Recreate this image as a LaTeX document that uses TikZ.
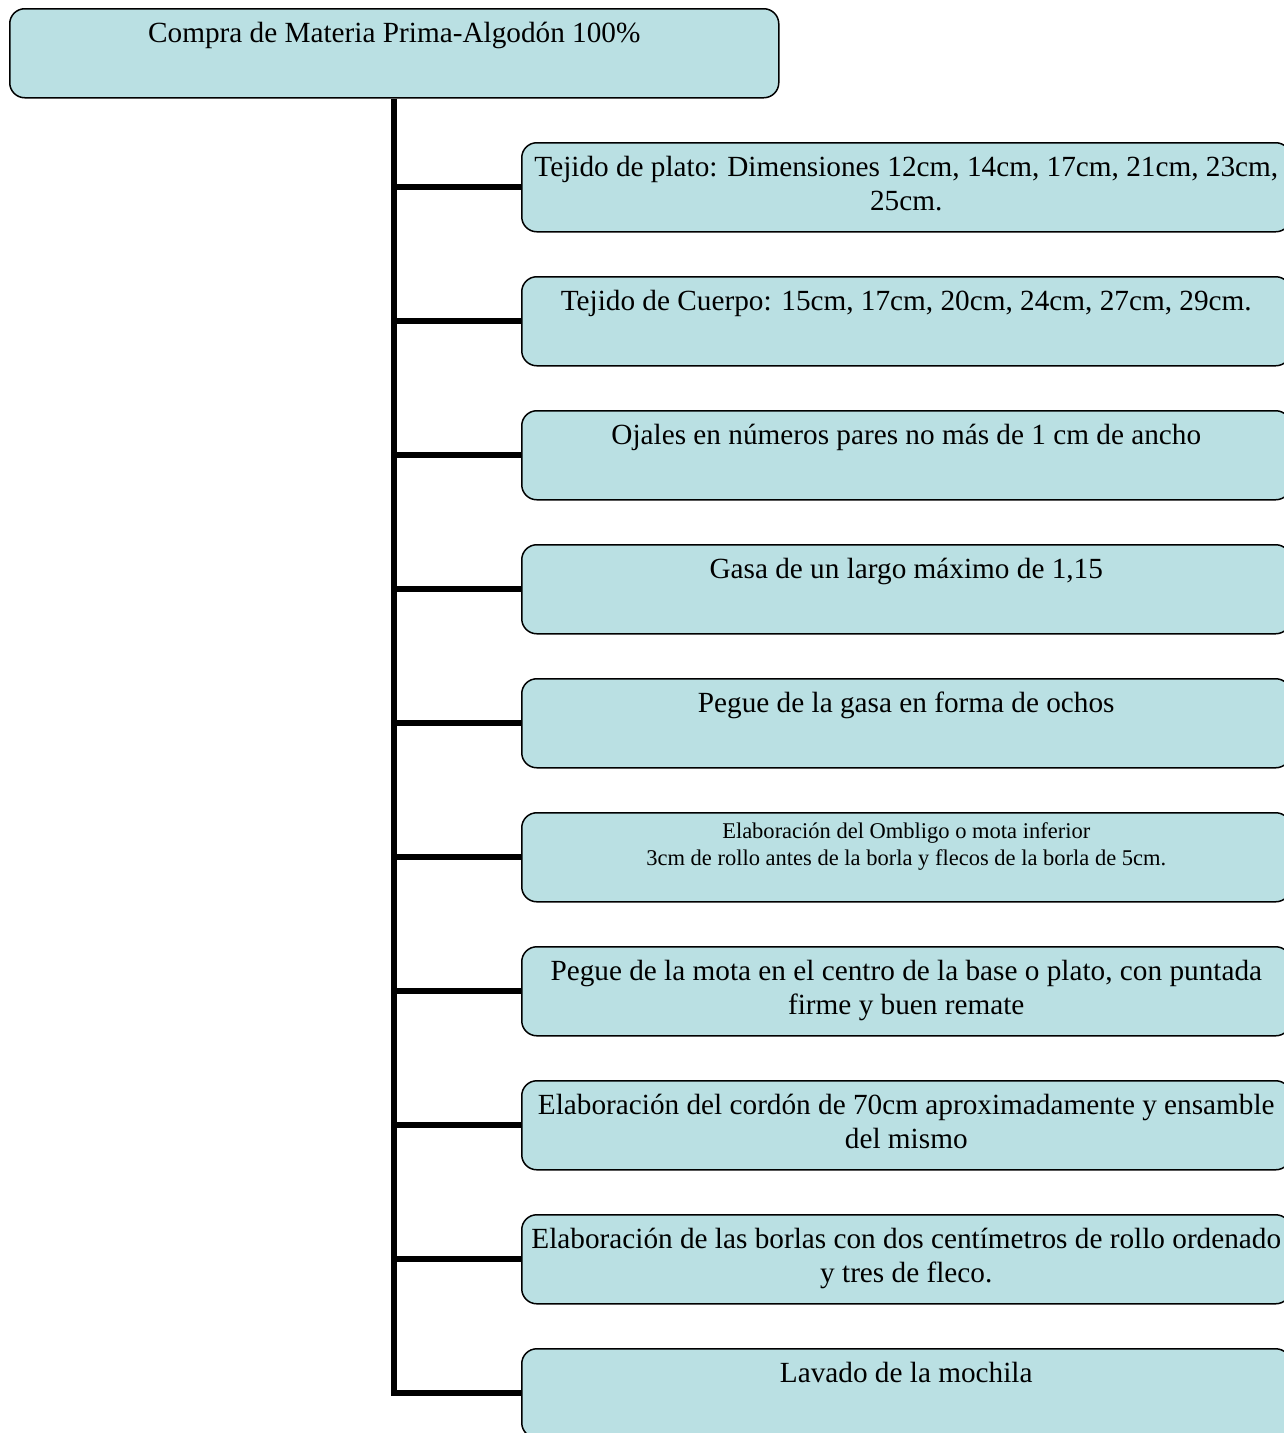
\documentclass[tikz,border=0pt]{standalone}
\usepackage{fontspec}
\setmainfont{Liberation Serif}
\usetikzlibrary{positioning, backgrounds}
\usepackage{xcolor}
\definecolor{celeste}{RGB}{186,224,227}

% text anchored at the top of a box
\newcommand{\caja}[1]{\parbox[c][35.6pt][t]{305pt}{\centering\rule{0pt}{13.3pt}#1}}
\newcommand{\cajachica}[1]{\parbox[c][35.6pt][t]{305pt}{\centering\fontsize{9}{10.8}\selectfont\rule{0pt}{10.4pt}#1}}

\tikzstyle{paso} = [%
  rectangle,
  draw=black,
  line width=0.6pt,
  fill=celeste,
  rounded corners=6pt,
  inner xsep=1.3pt,
  inner ysep=0pt,
  align=center,
  font=\fontsize{11.7}{13.6}\selectfont
]

\begin{document}
\begin{tikzpicture}[%
  x=0.4pt, y=-0.4pt,
  tronco/.style={draw=black, line width=2.3pt}
]
  \useasboundingbox (0,0) rectangle (1284,1433);
  \clip (0,0) rectangle (1284,1433);

  % Nodes
  \node[paso, anchor=north west] (compra) at (9,8) {\caja{Compra de Materia Prima-Algodón 100\%}};
  \node[paso, below=17.4pt of compra, xshift=204.8pt] (p1) {\caja{Tejido de plato: Dimensiones 12cm, 14cm, 17cm, 21cm, 23cm,\\ 25cm.}};
  \node[paso, below=17.4pt of p1] (p2) {\caja{Tejido de Cuerpo: 15cm, 17cm, 20cm, 24cm, 27cm, 29cm.}};
  \node[paso, below=17.4pt of p2] (p3) {\caja{Ojales en números pares no más de 1 cm de ancho}};
  \node[paso, below=17.4pt of p3] (p4) {\caja{Gasa de un largo máximo de 1,15}};
  \node[paso, below=17.4pt of p4] (p5) {\caja{Pegue de la gasa en forma de ochos}};
  \node[paso, below=17.4pt of p5] (p6) {\cajachica{Elaboración del Ombligo o mota inferior\\ 3cm de rollo antes de la borla y flecos de la borla de 5cm.}};
  \node[paso, below=17.4pt of p6] (p7) {\caja{Pegue de la mota en el centro de la base o plato, con puntada\\ firme y buen remate}};
  \node[paso, below=17.4pt of p7] (p8) {\caja{Elaboración del cordón de 70cm aproximadamente y ensamble\\ del mismo}};
  \node[paso, below=17.4pt of p8] (p9) {\caja{Elaboración de las borlas con dos centímetros de rollo ordenado\\ y tres de fleco.}};
  \node[paso, below=17.4pt of p9] (p10) {\caja{Lavado de la mochila}};

  % Connectors
  \begin{scope}[on background layer]
    \draw[tronco] (compra.south) |- (p10.west);
    \draw[tronco] (compra.south |- p1.west) -- (p1.west);
    \draw[tronco] (compra.south |- p2.west) -- (p2.west);
    \draw[tronco] (compra.south |- p3.west) -- (p3.west);
    \draw[tronco] (compra.south |- p4.west) -- (p4.west);
    \draw[tronco] (compra.south |- p5.west) -- (p5.west);
    \draw[tronco] (compra.south |- p6.west) -- (p6.west);
    \draw[tronco] (compra.south |- p7.west) -- (p7.west);
    \draw[tronco] (compra.south |- p8.west) -- (p8.west);
    \draw[tronco] (compra.south |- p9.west) -- (p9.west);
  \end{scope}

\end{tikzpicture}
\end{document}
